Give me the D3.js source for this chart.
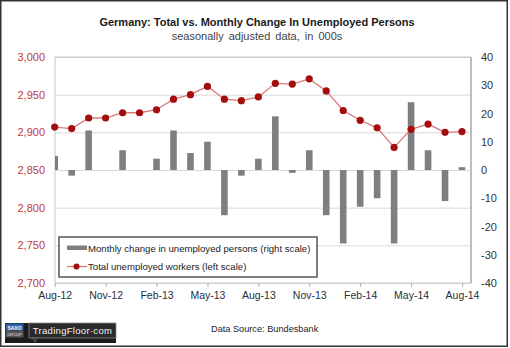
<!DOCTYPE html>
<html>
<head>
<meta charset="utf-8">
<script src="https://cdn.jsdelivr.net/npm/d3@7"></script>
<style>
  body { margin: 0; background: #fff; }
  svg { display: block; font-family: 'Liberation Sans', Arial, sans-serif; }
  .grid line { stroke: #d9d9d9; }
  .grid .domain { display: none; }
  .axis-left text { fill: #c0393b; font-size: 11px; font-family: 'Liberation Sans', Arial, sans-serif; }
  .axis-right text { fill: #333; font-size: 11px; font-family: 'Liberation Sans', Arial, sans-serif; }
  .axis-x text { fill: #2a2f3a; font-size: 10.5px; font-family: 'Liberation Sans', Arial, sans-serif; }
</style>
</head>
<body>
<svg width="510" height="348"></svg>
<script>
// monthly series, Aug-12 .. Aug-14
var months = ['Aug-12','Sep-12','Oct-12','Nov-12','Dec-12','Jan-13','Feb-13','Mar-13','Apr-13',
              'May-13','Jun-13','Jul-13','Aug-13','Sep-13','Oct-13','Nov-13','Dec-13','Jan-14',
              'Feb-14','Mar-14','Apr-14','May-14','Jun-14','Jul-14','Aug-14'];
// total unemployed (000s, left scale)
var totals = [2907, 2905, 2919, 2919, 2926, 2926, 2930, 2944, 2950, 2961, 2944, 2942, 2947,
              2965, 2964, 2971, 2955, 2929, 2916, 2906, 2880, 2904, 2911, 2900, 2901];
// monthly change (000s, right scale)
var changes = [5, -2, 14, 0, 7, 0, 4, 14, 6, 10, -16, -2, 4, 19, -1, 7, -16, -26, -13, -10,
               -26, 24, 7, -11, 1];
var leftTicks = [2700, 2750, 2800, 2850, 2900, 2950, 3000];
var rightTicks = [-40, -30, -20, -10, 0, 10, 20, 30, 40];

var svg = d3.select('svg');

var plot = {l: 55, r: 471, t: 57, b: 283};

// outer frame
svg.append('rect')
  .attr('x', 0.75).attr('y', 0.75)
  .attr('width', 506.5).attr('height', 345.5)
  .attr('fill', '#fff').attr('stroke', '#333').attr('stroke-width', 1.5);

var x = d3.scaleLinear().domain([0, months.length - 1]).range([54.7, 462]);
var yL = d3.scaleLinear().domain([2700, 3000]).range([plot.b, plot.t]);
var yR = d3.scaleLinear().domain([-40, 40]).range([plot.b, plot.t]);

// title
svg.append('text')
  .attr('x', 257).attr('y', 26)
  .attr('text-anchor', 'middle')
  .style('font-size', '11px').style('font-weight', 'bold').style('fill', '#1a1a1a')
  .text('Germany: Total vs. Monthly Change In Unemployed Persons');
svg.append('text')
  .attr('x', 257).attr('y', 40)
  .attr('text-anchor', 'middle')
  .style('font-size', '11px').style('fill', '#444').style('word-spacing', '2px')
  .text('seasonally adjusted data, in 000s');

// horizontal grid from left scale
svg.append('g').attr('class', 'grid')
  .attr('transform', 'translate(' + plot.l + ',0)')
  .call(d3.axisLeft(yL).tickValues(leftTicks).tickSize(-(plot.r - plot.l)).tickFormat(''));

// plot frame
svg.append('rect')
  .attr('x', plot.l).attr('y', plot.t)
  .attr('width', plot.r - plot.l).attr('height', plot.b - plot.t)
  .attr('fill', 'none').attr('stroke', '#c8c8c8').attr('stroke-width', 1);
svg.append('line')
  .attr('x1', plot.r).attr('x2', plot.r).attr('y1', plot.t).attr('y2', plot.b)
  .attr('stroke', '#b0b0b0').attr('stroke-width', 1.5);

// left axis labels
var axL = svg.append('g').attr('class', 'axis-left')
  .attr('transform', 'translate(' + plot.l + ',0)')
  .call(d3.axisLeft(yL).tickValues(leftTicks).tickSize(0).tickPadding(10).tickFormat(d3.format(',')));
axL.select('.domain').remove();

// right axis labels
var axR = svg.append('g').attr('class', 'axis-right')
  .attr('transform', 'translate(' + plot.r + ',0)')
  .call(d3.axisRight(yR).tickValues(rightTicks).tickSize(0).tickPadding(10));
axR.select('.domain').remove();
axR.selectAll('text').text(function(d) { return d < 0 ? '-' + Math.abs(d) : d; });

// x axis
var axX = svg.append('g').attr('class', 'axis-x')
  .attr('transform', 'translate(0,' + plot.b + ')')
  .call(d3.axisBottom(x)
    .tickValues(d3.range(0, months.length, 3))
    .tickSize(4).tickPadding(5)
    .tickFormat(function(i) { return months[i]; }));
axX.select('.domain').remove();
axX.selectAll('line').attr('stroke', '#b0b0b0');

// bars, clipped to the plot area
svg.append('clipPath').attr('id', 'plot-clip')
  .append('rect')
  .attr('x', plot.l).attr('y', plot.t)
  .attr('width', plot.r - plot.l).attr('height', plot.b - plot.t);

var barW = 6.6;
svg.append('g').attr('clip-path', 'url(#plot-clip)')
  .selectAll('rect')
  .data(changes)
  .enter()
  .append('rect')
  .attr('x', function(d, i) { return x(i) - barW / 2; })
  .attr('y', function(d) { return yR(Math.max(0, d)); })
  .attr('width', barW)
  .attr('height', function(d) { return Math.abs(yR(d) - yR(0)); })
  .attr('fill', '#7f7f7f');

// total unemployed line
var line = d3.line()
  .x(function(d, i) { return x(i); })
  .y(function(d) { return yL(d); });

svg.append('path')
  .datum(totals)
  .attr('d', line)
  .attr('fill', 'none')
  .attr('stroke', '#d9797a')
  .attr('stroke-width', 1.3);

svg.append('g')
  .selectAll('circle')
  .data(totals)
  .enter()
  .append('circle')
  .attr('cx', function(d, i) { return x(i); })
  .attr('cy', function(d) { return yL(d); })
  .attr('r', 3.6)
  .attr('fill', '#a50d0d');

// legend
var legend = svg.append('g').attr('transform', 'translate(59,237)');
legend.append('rect')
  .attr('width', 258).attr('height', 40)
  .attr('fill', '#fff').attr('stroke', '#555').attr('stroke-width', 1.5);
legend.append('rect')
  .attr('x', 8).attr('y', 8.5).attr('width', 20).attr('height', 4.5)
  .attr('fill', '#7f7f7f');
legend.append('text')
  .attr('x', 29).attr('y', 14.5)
  .style('font-size', '9.6px').style('fill', '#222')
  .text('Monthly change in unemployed persons (right scale)');
legend.append('line')
  .attr('x1', 8).attr('x2', 28).attr('y1', 29.5).attr('y2', 29.5)
  .attr('stroke', '#d9797a').attr('stroke-width', 1.3);
legend.append('circle')
  .attr('cx', 17.5).attr('cy', 29.5).attr('r', 3)
  .attr('fill', '#a50d0d');
legend.append('text')
  .attr('x', 29).attr('y', 33)
  .style('font-size', '9.6px').style('fill', '#222')
  .text('Total unemployed workers (left scale)');

// source note
svg.append('text')
  .attr('x', 211).attr('y', 332)
  .style('font-size', '9.2px').style('fill', '#222')
  .text('Data Source: Bundesbank');

// logo block
var logo = svg.append('g').attr('transform', 'translate(5,323)');
logo.append('rect').attr('x', 0).attr('y', 0).attr('width', 111).attr('height', 20).attr('fill', '#1b1b1b');
logo.append('rect').attr('x', 0.5).attr('y', 0.5).attr('width', 18).attr('height', 7).attr('fill', '#2f5fa8');
logo.append('rect').attr('x', 0.5).attr('y', 7.5).attr('width', 18).attr('height', 7).attr('fill', '#555');
logo.append('text').attr('x', 9.5).attr('y', 6.5).attr('text-anchor', 'middle')
  .style('font-size', '5px').style('fill', '#fff').style('font-weight', 'bold').text('SAXO');
logo.append('text').attr('x', 9.5).attr('y', 13.3).attr('text-anchor', 'middle')
  .style('font-size', '4px').style('fill', '#ddd').text('GROUP');
logo.append('rect').attr('x', 24).attr('y', 0).attr('width', 87).attr('height', 15)
  .attr('fill', '#2b2b2b').attr('stroke', '#888').attr('stroke-width', 0.8);
logo.append('path').attr('d', 'M27,15 L30,19 L32,15 Z').attr('fill', '#2b2b2b').attr('stroke', '#888').attr('stroke-width', 0.6);
logo.append('text').attr('x', 67.5).attr('y', 11).attr('text-anchor', 'middle')
  .style('font-size', '9.5px').style('fill', '#f2f2f2').style('letter-spacing', '0.3px')
  .text('TradingFloor\u00b7com');
</script>
</body>
</html>
